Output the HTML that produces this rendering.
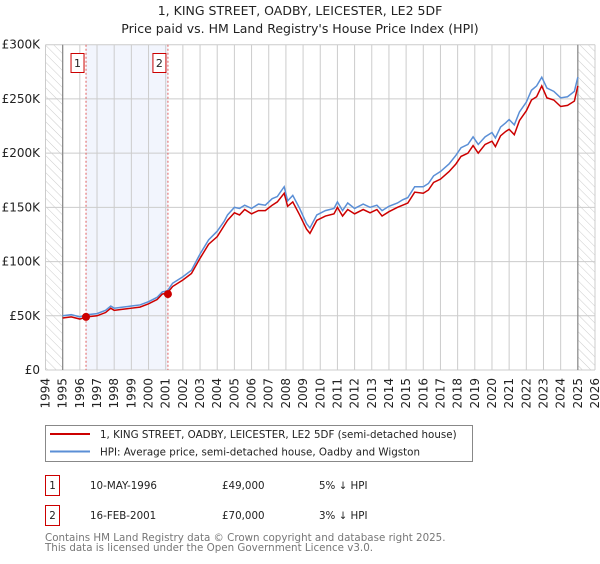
<!DOCTYPE html>
<html><head><meta charset="utf-8"><style>
body{margin:0;background:#fff;font-family:"DejaVu Sans","Liberation Sans",sans-serif;}
svg text{font-family:"DejaVu Sans","Liberation Sans",sans-serif;}
</style></head><body>
<svg id="chart" width="600" height="560" viewBox="0 0 600 560">
<defs><pattern id="hatch" width="6" height="6" patternUnits="userSpaceOnUse" patternTransform="rotate(-45)"><line x1="0" y1="0" x2="0" y2="6" stroke="#ccc" stroke-width="1"/></pattern></defs>
<text x="300" y="15" text-anchor="middle" font-size="12.5" fill="#222">1, KING STREET, OADBY, LEICESTER, LE2 5DF</text>
<text x="300" y="33" text-anchor="middle" font-size="12.5" fill="#222">Price paid vs. HM Land Registry's House Price Index (HPI)</text>
<g id="plot"></g>
<g>
<rect x="45.5" y="425.5" width="427" height="36" fill="#fff" stroke="#888"/>
<line x1="50" y1="434" x2="90" y2="434" stroke="#cc0000" stroke-width="2"/>
<text x="100" y="438" font-size="10.3" fill="#222">1, KING STREET, OADBY, LEICESTER, LE2 5DF (semi-detached house)</text>
<line x1="50" y1="451.5" x2="90" y2="451.5" stroke="#5b8fd6" stroke-width="2"/>
<text x="100" y="455.5" font-size="10.3" fill="#222">HPI: Average price, semi-detached house, Oadby and Wigston</text>
</g>
<g font-size="10.3" fill="#222">
<rect x="45.5" y="475.5" width="14" height="20" fill="#fff" stroke="#c00"/><text x="52.5" y="489" text-anchor="middle">1</text>
<text x="90" y="489">10-MAY-1996</text><text x="222" y="489">£49,000</text><text x="319" y="489">5% ↓ HPI</text>
<rect x="45.5" y="505.5" width="14" height="20" fill="#fff" stroke="#c00"/><text x="52.5" y="519" text-anchor="middle">2</text>
<text x="90" y="519">16-FEB-2001</text><text x="222" y="519">£70,000</text><text x="319" y="519">3% ↓ HPI</text>
</g>
<text x="45" y="541" font-size="10.3" fill="#777">Contains HM Land Registry data © Crown copyright and database right 2025.</text>
<text x="45" y="551" font-size="10.3" fill="#777">This data is licensed under the Open Government Licence v3.0.</text>
</svg>
<script>
const hpiYears=[1995,1995.5,1996,1996.4,1997,1997.5,1997.8,1998,1998.5,1999,1999.5,2000,2000.5,2000.8,2001.1,2001.4,2002,2002.5,2003,2003.5,2004,2004.4,2004.6,2005,2005.3,2005.6,2006,2006.4,2006.8,2007.2,2007.5,2007.9,2008.1,2008.4,2008.8,2009.2,2009.4,2009.8,2010.3,2010.8,2011,2011.3,2011.6,2012,2012.5,2012.9,2013.3,2013.6,2014,2014.5,2014.8,2015.1,2015.5,2016,2016.3,2016.6,2017,2017.5,2017.9,2018.2,2018.6,2018.9,2019.2,2019.6,2020,2020.2,2020.5,2020.8,2021,2021.3,2021.6,2022,2022.3,2022.6,2022.9,2023.2,2023.6,2024,2024.4,2024.8,2025.0];
const hpiValues=[50,51,49,51,52,55,59,57,58,59,60,63,67,72,73,80,86,92,107,120,128,137,143,150,149,152,149,153,152,158,160,169,156,161,149,135,131,143,147,149,155,147,154,149,153,150,152,147,151,154,157,159,169,169,172,179,183,190,198,205,208,215,208,215,219,214,224,228,231,226,238,247,258,262,270,260,257,251,252,257,270];
const paidValues=[48,49,47,49,50,53,57,55,56,57,58,61,65,70,71,77,83,89,103,116,123,133,138,145,143,148,144,147,147,152,155,163,151,155,143,130,126,138,142,144,150,142,148,144,148,145,148,142,146,150,152,154,164,163,166,173,176,183,190,197,200,207,200,208,211,206,216,220,222,217,230,239,249,252,262,251,249,243,244,248,262];
const yTicks=[0,50,100,150,200,250,300];
const yTickLabels=["£0","£50K","£100K","£150K","£200K","£250K","£300K"];
const xTicks=[1994,1995,1996,1997,1998,1999,2000,2001,2002,2003,2004,2005,2006,2007,2008,2009,2010,2011,2012,2013,2014,2015,2016,2017,2018,2019,2020,2021,2022,2023,2024,2025,2026];
const saleYears=[1996.36,2001.13];
const saleValues=[49,70];
const saleLabels=["1","2"];
const L=45.5,R=595,T=44.7,B=370;
const x=v=>L+(v-1994)/32*(R-L);
const y=v=>B-v/300*(B-T);
const NS="http://www.w3.org/2000/svg";
const g=document.getElementById('plot');
function mk(t,a,p){const e=document.createElementNS(NS,t);for(const k in a)e.setAttribute(k,a[k]);(p||g).appendChild(e);return e;}
let e;
e=mk('rect',{x:x(saleYears[0]),y:T,width:x(saleYears[1])-x(saleYears[0]),height:B-T,fill:'#f2f5fd'});


e=mk('rect',{x:L,y:T,width:x(1995)-L,height:B-T,fill:'url(#hatch)'});


e=mk('rect',{x:x(2025.0),y:T,width:R-x(2025.0),height:B-T,fill:'url(#hatch)'});


xTicks.forEach(t=>{e=mk('line',{x1:x(t),x2:x(t),y1:T,y2:B,stroke:'#ccc','stroke-width':1});


e=mk('text',{x:0,y:0,'font-size':12,fill:'#222','text-anchor':'end',transform:`translate(${x(t)+4},${B+8}) rotate(-90)`});e.textContent=t;

});
yTicks.forEach((t,i)=>{e=mk('line',{x1:L,x2:R,y1:y(t),y2:y(t),stroke:'#ccc','stroke-width':1});


e=mk('text',{x:40,y:y(t)+4,'font-size':12,fill:'#222','text-anchor':'end'});e.textContent=yTickLabels[i];

});
e=mk('line',{x1:x(1995),x2:x(1995),y1:T,y2:B,stroke:'#888','stroke-width':1.2});


e=mk('line',{x1:x(2025.0),x2:x(2025.0),y1:T,y2:B,stroke:'#888','stroke-width':1.2});


saleYears.forEach((s,i)=>{e=mk('line',{x1:x(s),x2:x(s),y1:T,y2:B,stroke:'#e06060','stroke-width':1,'stroke-dasharray':'2,2'});


e=mk('rect',{x:x(s)-15,y:53.5,width:13,height:19,fill:'#fff',stroke:'#c00'});


e=mk('text',{x:x(s)-8.5,y:67,'font-size':11,'text-anchor':'middle',fill:'#222'});e.textContent=saleLabels[i];

});
e=mk('polyline',{points:hpiYears.map((t,i)=>x(t)+','+y(hpiValues[i])).join(' '),fill:'none',stroke:'#5b8fd6','stroke-width':1.5});


e=mk('polyline',{points:hpiYears.map((t,i)=>x(t)+','+y(paidValues[i])).join(' '),fill:'none',stroke:'#cc0000','stroke-width':1.5});


saleYears.forEach((s,i)=>{e=mk('circle',{cx:x(s),cy:y(saleValues[i]),r:4,fill:'#cc0000'});

});
</script>
</body></html>
